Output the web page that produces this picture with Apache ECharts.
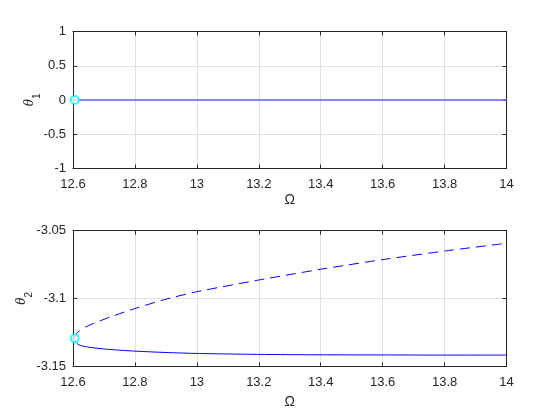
<!DOCTYPE html>
<html>
<head>
<meta charset="utf-8">
<script src="https://cdn.jsdelivr.net/npm/echarts@6/dist/echarts.min.js"></script>
<style>html,body{margin:0;padding:0;background:#fff}#c{width:560px;height:420px}</style>
</head>
<body>
<div id="c"></div>
<script>
// ---- data ----
const xTickLabels = ['12.6', '12.8', '13', '13.2', '13.4', '13.6', '13.8', '14'];
const y1TickLabels = ['-1', '-0.5', '0', '0.5', '1'];
const y2TickLabels = ['-3.15', '-3.1', '-3.05'];

const foldOmega = [12.6055];
const foldTheta1 = [0];
const foldTheta2 = [-3.1293];

const omegaTop = [12.6055, 14.0];
const theta1Stable = [0, 0];
const theta1Unstable = [0, 0];

const omegaUpper = [12.6055, 12.607, 12.611, 12.62, 12.64, 12.67, 12.72, 12.8, 12.9, 13.0, 13.2, 13.4, 13.6, 13.8, 14.0];
const theta2Upper = [-3.1293, -3.1275, -3.1258, -3.1238, -3.1210, -3.1180, -3.1136, -3.1074, -3.1005, -3.0950, -3.0864, -3.0785, -3.0714, -3.0651, -3.0594];

const omegaLower = [12.6055, 12.607, 12.611, 12.62, 12.64, 12.67, 12.72, 12.8, 12.9, 13.0, 13.2, 13.4, 13.6, 13.8, 14.0];
const theta2Lower = [-3.1293, -3.1310, -3.1326, -3.1342, -3.1354, -3.1364, -3.1375, -3.1387, -3.1397, -3.1404, -3.1411, -3.1414, -3.1415, -3.1416, -3.1416];

// ---- chart ----
const pair = (xs, ys) => xs.map((x, i) => [x, ys[i]]);
const FONT = 'Liberation Sans';
const AX = '#262626';
const GRIDC = '#e0e0e0';
const BLUE = '#0000ff';

function xFmt(v) {
  const idx = Math.round((v - 12.6) / 0.2);
  return xTickLabels[idx] !== undefined ? xTickLabels[idx] : '';
}
function y1Fmt(v) {
  const idx = Math.round((v + 1) / 0.5);
  return y1TickLabels[idx] !== undefined ? y1TickLabels[idx] : '';
}
function y2Fmt(v) {
  const idx = Math.round((v + 3.15) / 0.05);
  return y2TickLabels[idx] !== undefined ? y2TickLabels[idx] : '';
}

function xAx(gridIndex, pos, main, gap) {
  return {
    type: 'value', gridIndex: gridIndex, position: pos,
    min: 12.6, max: 14, interval: 0.2,
    axisLine: { show: true, onZero: false, lineStyle: { color: AX, width: 1 } },
    axisTick: { show: true, inside: true, length: 4, lineStyle: { color: AX } },
    axisLabel: { show: main, formatter: xFmt, color: AX, fontFamily: FONT, fontSize: 13, margin: 9 },
    splitLine: { show: main, lineStyle: { color: GRIDC, width: 1 } },
    name: main ? 'Ω' : '', nameLocation: 'middle', nameGap: gap, nameMoveOverlap: false,
    nameTextStyle: { color: AX, fontFamily: FONT, fontSize: 14 }
  };
}
function yAx(gridIndex, pos, main, min, max, interval, fmt, sub, gap) {
  return {
    type: 'value', gridIndex: gridIndex, position: pos,
    min: min, max: max, interval: interval,
    axisLine: { show: true, onZero: false, lineStyle: { color: AX, width: 1 } },
    axisTick: { show: true, inside: true, length: 4, lineStyle: { color: AX } },
    axisLabel: { show: main, formatter: fmt, color: AX, fontFamily: FONT, fontSize: 13, margin: 7 },
    splitLine: { show: main, lineStyle: { color: GRIDC, width: 1 } },
    name: main ? '{t|θ}{s|' + sub + '}' : '',
    nameLocation: 'middle', nameRotate: 90, nameGap: gap, nameMoveOverlap: false,
    nameTextStyle: {
      rich: {
        t: { fontStyle: 'italic', fontFamily: 'Liberation Serif', fontSize: 15, color: AX, lineHeight: 18, verticalAlign: 'bottom' },
        s: { fontFamily: FONT, fontSize: 10, color: AX, verticalAlign: 'bottom', lineHeight: 18, padding: [0, 0, -5, 0] }
      }
    }
  };
}

const chart = echarts.init(document.getElementById('c'), null, { renderer: 'canvas' });
chart.setOption({
  animation: false,
  backgroundColor: '#ffffff',
  grid: [
    { left: 73, top: 31.5, width: 433.5, height: 137 },
    { left: 73, top: 230.5, width: 433.5, height: 136 }
  ],
  xAxis: [
    xAx(0, 'bottom', true, 25),
    xAx(0, 'top', false, 25),
    xAx(1, 'bottom', true, 29),
    xAx(1, 'top', false, 29)
  ],
  yAxis: [
    yAx(0, 'left', true, -1, 1, 0.5, y1Fmt, '1', 36),
    yAx(0, 'right', false, -1, 1, 0.5, y1Fmt, '1', 36),
    yAx(1, 'left', true, -3.15, -3.05, 0.05, y2Fmt, '2', 44),
    yAx(1, 'right', false, -3.15, -3.05, 0.05, y2Fmt, '2', 44)
  ],
  series: [
    { type: 'line', xAxisIndex: 0, yAxisIndex: 0, data: pair(omegaTop, theta1Unstable), showSymbol: false,
      lineStyle: { color: '#6464ff', width: 1.2 } },
    { type: 'line', xAxisIndex: 0, yAxisIndex: 0, data: pair(omegaTop, theta1Stable), showSymbol: false,
      lineStyle: { color: '#6464ff', width: 1.2 } },
    { type: 'scatter', xAxisIndex: 0, yAxisIndex: 0, data: pair(foldOmega, foldTheta1), symbol: 'circle', symbolSize: 8,
      itemStyle: { color: '#ffffff', borderColor: '#00ffff', borderWidth: 2 }, z: 5 },
    { type: 'line', xAxisIndex: 2, yAxisIndex: 2, data: pair(omegaUpper, theta2Upper), showSymbol: false, smooth: 0.2,
      lineStyle: { color: BLUE, width: 1, type: [10, 6] } },
    { type: 'line', xAxisIndex: 2, yAxisIndex: 2, data: pair(omegaLower, theta2Lower), showSymbol: false, smooth: 0.2,
      lineStyle: { color: BLUE, width: 1 } },
    { type: 'scatter', xAxisIndex: 2, yAxisIndex: 2, data: pair(foldOmega, foldTheta2), symbol: 'circle', symbolSize: 8,
      itemStyle: { color: '#ffffff', borderColor: '#00ffff', borderWidth: 2 }, z: 5 }
  ]
});
</script>
</body>
</html>
